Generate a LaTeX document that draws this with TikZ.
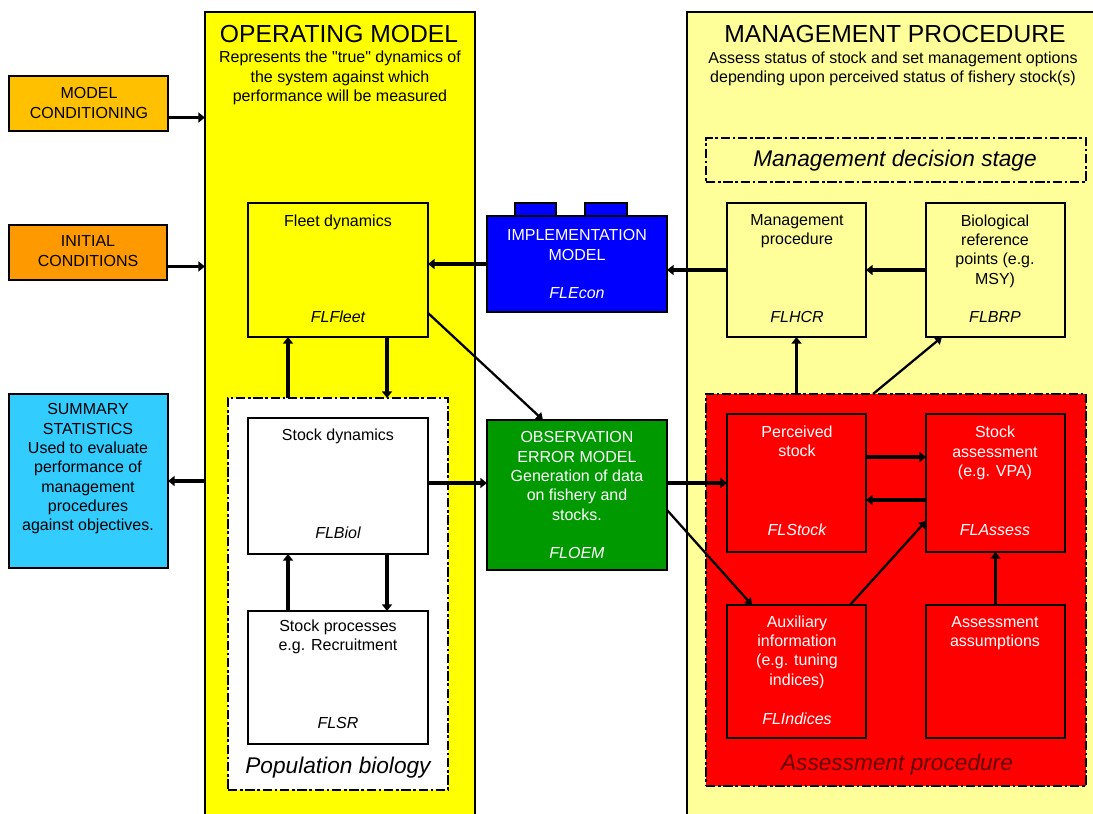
\documentclass[tikz,border=0pt]{standalone}
\usepackage{fontspec}
\setmainfont{Liberation Sans}[Ligatures=TeXOff]
\usetikzlibrary{arrows.meta,fit,calc}

\definecolor{opyellow}{RGB}{255,255,0}
\definecolor{mpyellow}{RGB}{255,255,153}
\definecolor{mcorange}{RGB}{255,192,0}
\definecolor{icorange}{RGB}{255,153,0}
\definecolor{sscyan}{RGB}{51,204,255}
\definecolor{imblue}{RGB}{0,0,255}
\definecolor{oegreen}{RGB}{0,153,0}
\definecolor{apred}{RGB}{255,0,0}
\definecolor{apdark}{RGB}{96,0,0}

\begin{document}
\begin{tikzpicture}[x=0.75pt,y=-0.75pt,
  region/.style={fit={#1}, inner sep=0pt, outer sep=0pt},
  frame/.style={draw=black, line width=1pt},
  box/.style={draw=black, line width=1.5pt},
  dbox/.style={draw=black, line width=2pt, dash pattern=on 7pt off 2pt on 2pt off 2pt},
  txt/.style={font=\fontsize{12}{14.5}\selectfont, align=center, inner sep=0pt},
  tag/.style={font=\fontsize{12}{14.5}\selectfont\itshape, inner sep=0pt},
  title/.style={font=\fontsize{18.5}{22}\selectfont, inner sep=0pt},
  stage/.style={font=\fontsize{17}{20}\selectfont\itshape, inner sep=0pt},
  arr/.style={line width=2.8pt, -{Triangle[length=5pt,width=7.5pt]}},
  darr/.style={line width=1.7pt, -{Triangle[length=5pt,width=6.5pt]}}]

\useasboundingbox (0,0) rectangle (1093,814);
\clip (0,0) rectangle (1093,814);
\fill[white] (0,0) rectangle (1093,814);

% ---- the two large panels ----
\node[region={(205,12) (475,830)}, frame, fill=opyellow] (opm) {};
\node[region={(687,12) (1100,830)}, frame, fill=mpyellow] (mpr) {};

\node[title] (opm-title) at (339,34) {OPERATING MODEL};
\node[txt] (opm-sub) at (340,78) {Represents the "true" dynamics of\\the system against which\\performance will be measured};
\node[title] (mpr-title) at (895,34) {MANAGEMENT PROCEDURE};
\node[txt] (mpr-sub) at (893,69) {Assess status of stock and set management options\\depending upon perceived status of fishery stock(s)};

% ---- inputs and outputs on the left ----
\node[region={(9,76) (168,131)}, box, fill=mcorange] (mc) {};
\node[txt] (mc-t) at (89,103) {MODEL\\CONDITIONING};
\node[region={(9,225) (167,280)}, box, fill=icorange] (ic) {};
\node[txt] (ic-t) at (88,251) {INITIAL\\CONDITIONS};
\node[region={(9,394) (168,568)}, box, fill=sscyan] (ss) {};
\node[txt] (ss-t) at (88,469) {SUMMARY\\STATISTICS\\Used to evaluate\\performance of\\management\\procedures\\against objectives.};

% ---- operating model contents ----
\node[region={(248,203) (428,337)}, box, fill=opyellow] (fleet) {};
\node[txt] (fleet-t) at (338,222) {Fleet dynamics};
\node[tag] (fleet-l) at (338,317) {FLFleet};

\node[region={(228,398) (448,790)}, dbox, fill=white] (pb) {};
\node[stage] (pb-l) at (338,768) {Population biology};

\node[region={(248,418) (428,554)}, box, fill=white] (sd) {};
\node[txt] (sd-t) at (338,436) {Stock dynamics};
\node[tag] (sd-l) at (338,533) {FLBiol};

\node[region={(248,611) (428,744)}, box, fill=white] (sp) {};
\node[txt] (sp-t) at (338,637) {Stock processes\\e.g. Recruitment};
\node[tag] (sp-l) at (338,723) {FLSR};

% ---- implementation and observation models ----
\node[region={(515,203) (556,220)}, frame, fill=imblue] (im-tab1) {};
\node[region={(585,203) (627,220)}, frame, fill=imblue] (im-tab2) {};
\node[region={(487,216) (667,312)}, box, fill=imblue] (im) {};
\node[txt, text=white] (im-t) at (577,245) {IMPLEMENTATION\\MODEL};
\node[tag, text=white] (im-l) at (577,293) {FLEcon};

\node[region={(487,420) (667,570)}, box, fill=oegreen] (oem) {};
\node[txt, text=white] (oem-t) at (577,476) {OBSERVATION\\ERROR MODEL\\Generation of data\\on fishery and\\stocks.};
\node[tag, text=white] (oem-l) at (577,553) {FLOEM};

% ---- management procedure contents ----
\node[region={(706,138) (1086,182)}, dbox, fill=mpyellow] (mds) {};
\node[stage] (mds-l) at (895,161) {Management decision stage};

\node[region={(727,203) (866,337)}, box, fill=mpyellow] (mp) {};
\node[txt] (mp-t) at (797,231) {Management\\procedure};
\node[tag] (mp-l) at (797,317) {FLHCR};

\node[region={(926,203) (1065,337)}, box, fill=mpyellow] (brp) {};
\node[txt] (brp-t) at (995,251) {Biological\\reference\\points (e.g.\\MSY)};
\node[tag] (brp-l) at (995,317) {FLBRP};

\node[region={(706,394) (1086,786)}, dbox, fill=apred] (ap) {};
\node[stage, text=apdark] (ap-l) at (897,765) {Assessment procedure};

\node[region={(727,414) (866,552)}, box, fill=apred] (ps) {};
\node[txt, text=white] (ps-t) at (797,441) {Perceived\\stock};
\node[tag, text=white] (ps-l) at (797,530) {FLStock};

\node[region={(926,414) (1065,552)}, box, fill=apred] (sa) {};
\node[txt, text=white] (sa-t) at (995,453) {Stock\\assessment\\(e.g. VPA)};
\node[tag, text=white] (sa-l) at (995,530) {FLAssess};

\node[region={(727,605) (866,738)}, box, fill=apred] (aux) {};
\node[txt, text=white] (aux-t) at (797,652) {Auxiliary\\information\\(e.g. tuning\\indices)};
\node[tag, text=white] (aux-l) at (797,719) {FLIndices};

\node[region={(926,605) (1065,738)}, box, fill=apred] (aa) {};
\node[txt, text=white] (aa-t) at (995,633) {Assessment\\assumptions};

% ---- connectors ----
\coordinate (mc-o) at ($(mc.east)+(0,14)$);
\draw[arr] (mc-o) -- (mc-o -| opm.west);
\coordinate (ic-o) at ($(ic.east)+(0,14)$);
\draw[arr] (ic-o) -- (ic-o -| opm.west);
\draw[arr] (opm.west |- ss.east) -- (ss.east);

\draw[arr] (im.west) -- (im.west -| fleet.east);
\draw[arr] (mp.west) -- (mp.west -| im.east);
\draw[arr] (brp.west) -- (mp.east);

\coordinate (pb-up) at ($(pb.north west)+(60,0)$);
\draw[arr] (pb-up) -- (pb-up |- fleet.south);
\coordinate (fl-dn) at ($(fleet.south east)+(-41,0)$);
\draw[arr] (fl-dn) -- (fl-dn |- pb.north);

\coordinate (sp-up) at ($(sp.north west)+(40,0)$);
\draw[arr] (sp-up) -- (sp-up |- sd.south);
\coordinate (sd-dn) at ($(sd.south east)+(-41,0)$);
\draw[arr] (sd-dn) -- (sd-dn |- sp.north);

\coordinate (sd-o) at ($(sd.east)+(0,-3)$);
\draw[arr] (sd-o) -- (sd-o -| oem.west);
\draw[arr] (oem.east |- ps.west) -- (ps.west);

\coordinate (fl-o) at ($(fleet.east)+(0,43)$);
\draw[darr] (fl-o) -- ($(oem.north west)+(56,0)$);
\coordinate (oem-o) at ($(oem.east)+(0,15)$);
\draw[darr] (oem-o) -- ($(aux.north west)+(25,0)$);

\coordinate (ps-o) at ($(ps.east)+(0,-26)$);
\draw[arr] (ps-o) -- (ps-o -| sa.west);
\coordinate (sa-o) at ($(sa.west)+(0,17)$);
\draw[arr] (sa-o) -- (sa-o -| ps.east);

\draw[darr] ($(aux.north west)+(123,0)$) -- ($(sa.west)+(0,38)$);
\draw[arr] (aa.north) -- (sa.south);

\draw[arr] (mp.south |- ap.north) -- (mp.south);
\draw[darr] ($(ap.north west)+(167,0)$) -- ($(brp.south west)+(16,0)$);

\end{tikzpicture}
\end{document}
